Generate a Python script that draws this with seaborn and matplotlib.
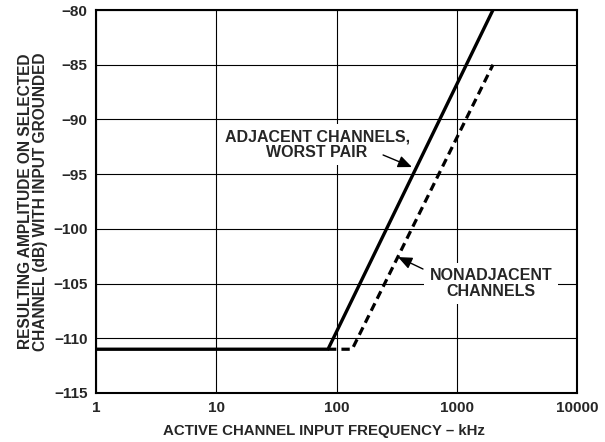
import matplotlib
matplotlib.use("Agg")
import matplotlib.pyplot as plt
import seaborn as sns
import pandas as pd
import numpy as np

# Data
freq_adjacent = [1, 85, 2000]
amp_adjacent = [-111, -111, -80]
freq_nonadjacent = [85, 135, 2000]
amp_nonadjacent = [-111, -111, -85]

x_ticks = [1, 10, 100, 1000, 10000]
x_tick_labels = ["1", "10", "100", "1000", "10000"]
y_ticks = [-115, -110, -105, -100, -95, -90, -85, -80]
y_tick_labels = ["\u2212115", "\u2212110", "\u2212105", "\u2212100", "\u221295", "\u221290", "\u221285", "\u221280"]

sns.set_theme(style="white")
plt.rcParams['font.family'] = ['Liberation Sans', 'DejaVu Sans']
plt.rcParams['font.weight'] = 'bold'

fig = plt.figure(figsize=(6.05, 4.42), dpi=100)
ax = fig.add_axes([96/605, 1-393/442, (577-96)/605, (393-10)/442])

df_a = pd.DataFrame({"f": freq_adjacent, "a": amp_adjacent})
df_n = pd.DataFrame({"f": freq_nonadjacent, "a": amp_nonadjacent})
sns.lineplot(data=df_n, x="f", y="a", ax=ax, color="black", lw=2.3,
             linestyle=(0, (2.6, 1.6)), zorder=3, sort=False)
sns.lineplot(data=df_a, x="f", y="a", ax=ax, color="black", lw=2.4,
             zorder=4, sort=False)

ax.set_xscale("log")
ax.set_xlim(1, 10000)
ax.set_ylim(-115, -80)
ax.set_xticks(x_ticks)
ax.set_xticklabels(x_tick_labels)
ax.minorticks_off()
ax.set_yticks(y_ticks)
ax.set_yticklabels(y_tick_labels)
ax.tick_params(length=0, labelsize=11)
ax.tick_params(axis="x", pad=6)
ax.tick_params(axis="y", pad=6)
for lab in ax.get_xticklabels() + ax.get_yticklabels():
    lab.set_fontweight("bold")

ax.grid(True, color="black", lw=0.8, zorder=1)
for s in ax.spines.values():
    s.set_color("black")
    s.set_linewidth(1.5)
    s.set_zorder(5)

ax.set_ylabel("")
ax.set_xlabel("")
fig.text(323.5/605, 1-431.5/442, "ACTIVE CHANNEL INPUT FREQUENCY \u2013 kHz",
         ha="center", va="center", fontsize=10.8, fontweight="bold")
fig.text(33/605, 1-201.5/442, "RESULTING AMPLITUDE ON SELECTED\nCHANNEL (dB) WITH INPUT GROUNDED",
         rotation=90, ha="center", va="center", fontsize=11.2, fontweight="bold",
         multialignment="center", linespacing=1.0)

box = dict(boxstyle="square,pad=0.35", fc="white", ec="none")
ax.text(69, -92.3, "ADJACENT CHANNELS,\nWORST PAIR", ha="center", va="center",
        fontsize=11.5, fontweight="bold", multialignment="center", bbox=box, zorder=2,
        linespacing=1.05)
ax.text(1928, -105.0, "NONADJACENT\nCHANNELS", ha="center", va="center",
        fontsize=11.5, fontweight="bold", multialignment="center", bbox=box, zorder=2,
        linespacing=1.05)

arrow = dict(arrowstyle="-|>,head_length=0.7,head_width=0.3", color="black", lw=1.0,
             shrinkA=0, shrinkB=0)
ax.annotate("", xy=(424, -94.35), xytext=(244, -93.25), arrowprops=arrow, zorder=6)
ax.annotate("", xy=(325, -102.58), xytext=(524, -103.67), arrowprops=arrow, zorder=6)

fig.savefig("out.png", dpi=100, facecolor="white")
